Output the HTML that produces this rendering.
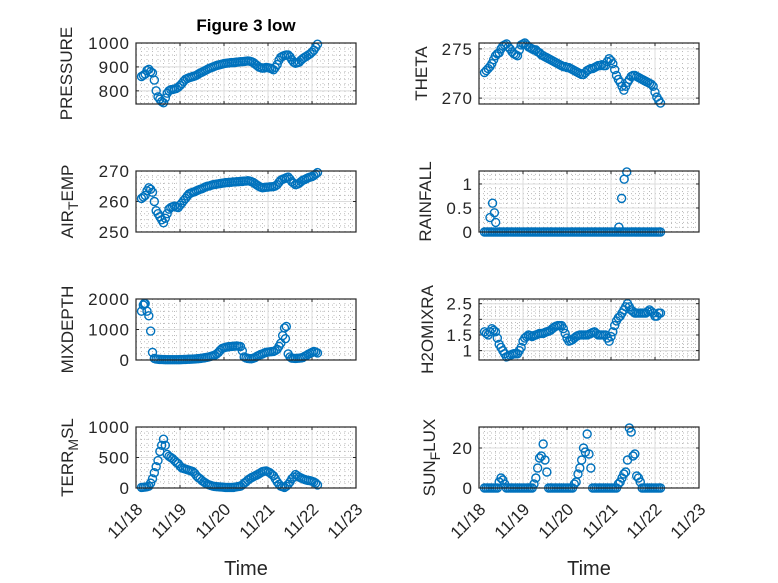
<!DOCTYPE html>
<html><head><meta charset="utf-8">
<style>
html,body{margin:0;padding:0;background:#fff;}
svg{display:block;font-family:"Liberation Sans",sans-serif;}
</style></head>
<body>
<svg id="fig" width="778" height="583" viewBox="0 0 778 583" xmlns="http://www.w3.org/2000/svg">
<rect width="778" height="583" fill="#fff"/>
<text x="246" y="31" text-anchor="middle" font-size="17" font-weight="bold" fill="#000">Figure 3 low</text>
</svg>
<script>
// hours since 11/18 00:00
const hours = [3,4,5,6,7,8,9,10,11,12,13,14,15,16,17,18,19,20,21,22,23,24,25,26,27,28,29,30,31,32,33,34,35,36,37,38,39,40,41,42,43,44,45,46,47,48,49,50,51,52,53,54,55,56,57,58,59,60,61,62,63,64,65,66,67,68,69,70,71,72,73,74,75,76,77,78,79,80,81,82,83,84,85,86,87,88,89,90,91,92,93,94,95,96,97,98,99];
const xTickLabels = ["11/18","11/19","11/20","11/21","11/22","11/23"];

const pressure = [860,865,870,885,890,880,875,845,800,775,
765,755,750,770,790,800,805,806,808,810,
815,822,830,840,848,852,855,857,860,862,
865,870,875,878,882,886,890,894,897,900,
903,906,908,910,912,914,915,916,917,918,
918,919,920,921,922,922,923,924,925,924,
922,918,912,906,900,897,895,896,898,897,
895,892,888,898,910,928,940,945,948,950,
950,942,930,920,915,917,920,928,935,940,
945,950,955,962,970,982,995];
const airTemp = [261,261.5,262,263.5,264.5,264,263,260,257,256,
255,254,253,254.5,256,257.5,258,258.3,258.5,258.2,
258,258.8,259.5,260.3,261,261.8,262.5,262.8,263,263.2,
263.5,263.8,264,264.2,264.5,264.8,265,265.1,265.3,265.5,
265.6,265.7,265.8,265.9,266,266.1,266.2,266.2,266.3,266.3,
266.4,266.4,266.5,266.5,266.6,266.6,266.7,266.7,266.8,266.7,
266.5,266.2,265.8,265.4,265,264.7,264.5,264.6,264.7,264.7,
264.8,264.8,264.9,265.1,265.5,266.3,267,267.3,267.5,267.8,
268,267.3,266.5,266,265.5,265.7,266,266.5,267,267.2,
267.5,267.8,268,268.2,268.5,269,269.5];
const theta = [272.6,272.8,273,273.2,273.5,273.9,274.3,274.5,274.6,275,
275.3,275.4,275.5,275.2,275,274.7,274.5,274.4,274.3,274.9,
275.4,275.5,275.6,275.4,275.2,275.1,275,274.9,274.9,274.7,
274.6,274.4,274.3,274.2,274.1,274,273.9,273.8,273.7,273.6,
273.5,273.4,273.3,273.2,273.2,273.1,273.1,273,272.9,272.8,
272.7,272.6,272.5,272.4,272.4,272.6,272.8,272.9,273,273,
273.1,273.2,273.3,273.3,273.4,273.3,273.3,273.7,274,273.8,
273.5,272.9,272.3,271.9,271.6,271.2,270.8,271.2,271.6,271.9,
272.2,272.3,272.3,272.2,272.1,272,271.9,271.8,271.7,271.6,
271.5,271.4,271.2,270.6,270.1,269.8,269.5];
const rainfall = [0,0,0,0,0,0,0,0,0,0,
0,0,0,0,0,0,0,0,0,0,
0,0,0,0,0,0,0,0,0,0,
0,0,0,0,0,0,0,0,0,0,
0,0,0,0,0,0,0,0,0,0,
0,0,0,0,0,0,0,0,0,0,
0,0,0,0,0,0,0,0,0,0,
0,0,0,0,0,0,0,0,0,0,
0,0,0,0,0,0,0,0,0,0,
0,0,0,0,0,0,0];
const rainExtraH = [6,7.4,8.4,9.1,76.3,77.8,79.2,80.6];
const rainExtraV = [0.3,0.6,0.4,0.2,0.1,0.7,1.1,1.25];
const mixDepth = [1600,1800,1850,1600,1450,950,250,50,30,25,
20,18,15,12,10,10,10,10,10,10,
10,12,15,18,20,22,25,28,30,35,
40,45,50,60,70,80,90,105,120,140,
160,200,250,320,380,400,420,430,440,445,
450,455,460,450,440,300,100,70,50,45,
40,60,80,120,150,180,200,230,250,260,
270,275,280,310,350,450,550,800,1050,1100,
200,100,60,55,50,55,60,70,80,120,
150,190,220,250,280,260,230];
const mixExtraH = [4.5,81.5];
const mixExtraV = [1850,700];
const h2o = [1.6,1.55,1.5,1.6,1.7,1.65,1.6,1.4,1.2,1.1,
1.0,0.9,0.8,0.82,0.85,0.88,0.9,0.9,0.9,1.0,
1.1,1.3,1.4,1.45,1.5,1.48,1.45,1.48,1.5,1.52,
1.55,1.55,1.55,1.58,1.6,1.62,1.65,1.7,1.75,1.78,
1.8,1.8,1.8,1.7,1.55,1.4,1.3,1.32,1.35,1.4,
1.45,1.48,1.5,1.5,1.5,1.5,1.5,1.52,1.55,1.58,
1.6,1.55,1.5,1.5,1.5,1.5,1.5,1.4,1.3,1.45,
1.6,1.8,1.95,2.05,2.1,2.2,2.3,2.4,2.5,2.4,
2.3,2.25,2.2,2.2,2.2,2.2,2.2,2.2,2.2,2.25,
2.3,2.25,2.2,2.1,2.1,2.2,2.2];
const terr = [10,12,15,20,30,80,150,250,350,450,
600,700,800,700,550,520,500,480,450,420,
400,360,330,320,310,300,290,280,270,240,
200,170,150,120,100,80,60,50,40,30,
25,22,20,18,15,12,10,10,10,10,
10,15,20,25,30,50,80,100,130,150,
170,185,200,215,230,250,270,275,280,265,
250,225,200,150,100,60,30,20,10,30,
60,100,150,180,220,200,180,165,150,140,
130,125,120,110,100,80,50];
const sunFlux = [0,0,0,0,0,0,0,0,3,5,
4,2,0,0,0,0,0,0,0,0,
0,0,0,0,0,0,0,2,5,10,
15,16,22,14,8,0,0,0,0,0,
0,0,0,0,0,0,0,0,0,2,
3,7,10,14,20,18,27,17,10,0,
0,0,0,0,0,0,0,0,0,0,
0,0,0,2,3,5,7,8,14,30,
28,16,17,6,5,3,0,0,0,0,
0,0,0,0,0,0,0];

const panels = [
 {name:"pressure",label:["PRESSURE"],x0:136,y0:43,lx:66,min:745,max:1000,ticks:[800,900,1000],tl:["800","900","1000"],minor:25,v:pressure,bottom:false},
 {name:"theta",label:["THETA"],x0:479,y0:43,lx:421,min:269.4,max:275.6,ticks:[270,275],tl:["270","275"],minor:1,v:theta,bottom:false},
 {name:"air-temp",label:["AIR","T","EMP"],x0:136,y0:171,lx:67,min:250,max:270,ticks:[250,260,270],tl:["250","260","270"],minor:2,v:airTemp,bottom:false},
 {name:"rainfall",label:["RAINFALL"],x0:479,y0:171,lx:425,min:0,max:1.27,ticks:[0,0.5,1],tl:["0","0.5","1"],minor:0.1,v:rainfall,eh:rainExtraH,ev:rainExtraV,bottom:false},
 {name:"mixdepth",label:["MIXDEPTH"],x0:136,y0:299,lx:67,min:0,max:2000,ticks:[0,1000,2000],tl:["0","1000","2000"],minor:200,v:mixDepth,eh:mixExtraH,ev:mixExtraV,bottom:false},
 {name:"h2omixra",label:["H2OMIXRA"],x0:479,y0:299,lx:427,min:0.7,max:2.65,ticks:[1,1.5,2,2.5],tl:["1","1.5","2","2.5"],minor:0.1,v:h2o,bottom:false},
 {name:"terr-msl",label:["TERR","M","SL"],x0:136,y0:427,lx:67,min:0,max:1000,ticks:[0,500,1000],tl:["0","500","1000"],minor:100,v:terr,bottom:true},
 {name:"sun-flux",label:["SUN","F","LUX"],x0:479,y0:427,lx:429,min:0,max:30.5,ticks:[0,20],tl:["0","20"],minor:2.5,v:sunFlux,bottom:true}
];
const W=220,H=61;
const NS="http://www.w3.org/2000/svg";
const svg=document.getElementById('fig');
function mk(tag,attrs,parent){const e=document.createElementNS(NS,tag);for(const k in attrs)e.setAttribute(k,attrs[k]);(parent||svg).appendChild(e);return e;}

panels.forEach(p=>{
  const g=mk('g',{});
  
  
  const xs=h=>p.x0+h/24/5*W;
  const ys=v=>p.y0+H-(v-p.min)/(p.max-p.min)*H;
  for(let d=0;d<5;d++)for(let k=1;k<8;k++){const x=xs((d+k/8)*24);
    const l=mk('line',{x1:x,x2:x,y1:p.y0,y2:p.y0+H,stroke:'#bbb','stroke-width':1,'stroke-dasharray':'1,3'},g);
    
    }
  const m0=Math.ceil(p.min/p.minor);
  for(let k=m0;k*p.minor<=p.max+1e-9;k++){const v=k*p.minor;const y=ys(v);
    const l=mk('line',{x1:p.x0,x2:p.x0+W,y1:y,y2:y,stroke:'#bbb','stroke-width':1,'stroke-dasharray':'1,3'},g);
    
    }
  for(let d=1;d<5;d++){const x=xs(d*24);
    const l=mk('line',{x1:x,x2:x,y1:p.y0,y2:p.y0+H,stroke:'#dcdcdc','stroke-width':1},g);
    
    }
  p.ticks.forEach((v,i)=>{const y=ys(v);
    const l=mk('line',{x1:p.x0,x2:p.x0+W,y1:y,y2:y,stroke:'#dcdcdc','stroke-width':1},g);
    
    
    mk('line',{x1:p.x0,x2:p.x0+3,y1:y,y2:y,stroke:'#262626'},g);
    mk('line',{x1:p.x0+W-3,x2:p.x0+W,y1:y,y2:y,stroke:'#262626'},g);
    const t=mk('text',{x:p.x0-6,y:y+6,'text-anchor':'end','font-size':17,'letter-spacing':1,fill:'#262626'},g);
    t.textContent=p.tl[i];
    
    
  });
  for(let d=0;d<=5;d++){const x=xs(d*24);
    mk('line',{x1:x,x2:x,y1:p.y0+H,y2:p.y0+H-3,stroke:'#262626'},g);
    mk('line',{x1:x,x2:x,y1:p.y0,y2:p.y0+3,stroke:'#262626'},g);
    if(p.bottom){
      const t=mk('text',{x:0,y:0,'text-anchor':'middle','font-size':17,fill:'#262626',transform:`translate(${x-7},${p.y0+H+37}) rotate(-45)`},g);
      t.textContent=xTickLabels[d];
      
      
    }
  }
  const pts=[];
  const n=Math.min(hours.length,p.v.length);
  for(let i=0;i<n;i++)pts.push([hours[i],p.v[i]]);
  if(p.eh)p.eh.forEach((h,i)=>pts.push([h,p.ev[i]]));
  pts.forEach(([h,v])=>{
    const c=mk('circle',{cx:xs(h),cy:ys(v),r:4,fill:'none',stroke:'#0072BD','stroke-width':1.4},g);
    
    
  });
  const box=mk('rect',{x:p.x0,y:p.y0,width:W,height:H,fill:'none',stroke:'#262626','stroke-width':1.2},g);
  
  
  const cy=p.y0+H/2;
  const lab=mk('text',{x:0,y:0,'text-anchor':'middle','font-size':17,fill:'#262626',transform:`translate(${p.lx+6},${cy}) rotate(-90)`},g);
  
  
  if(p.label.length===1){lab.textContent=p.label[0];}
  else{
    const a=mk('tspan',{},lab);a.textContent=p.label[0];
    const b=mk('tspan',{dy:5,'font-size':14},lab);b.textContent=p.label[1];
    const c=mk('tspan',{dy:-5},lab);c.textContent=p.label[2];
  }
  if(p.bottom){
    const tt=mk('text',{x:p.x0+W/2,y:575,'text-anchor':'middle','font-size':20,fill:'#262626'},g);
    tt.textContent='Time';
    
    
  }
});
</script>
</body></html>
